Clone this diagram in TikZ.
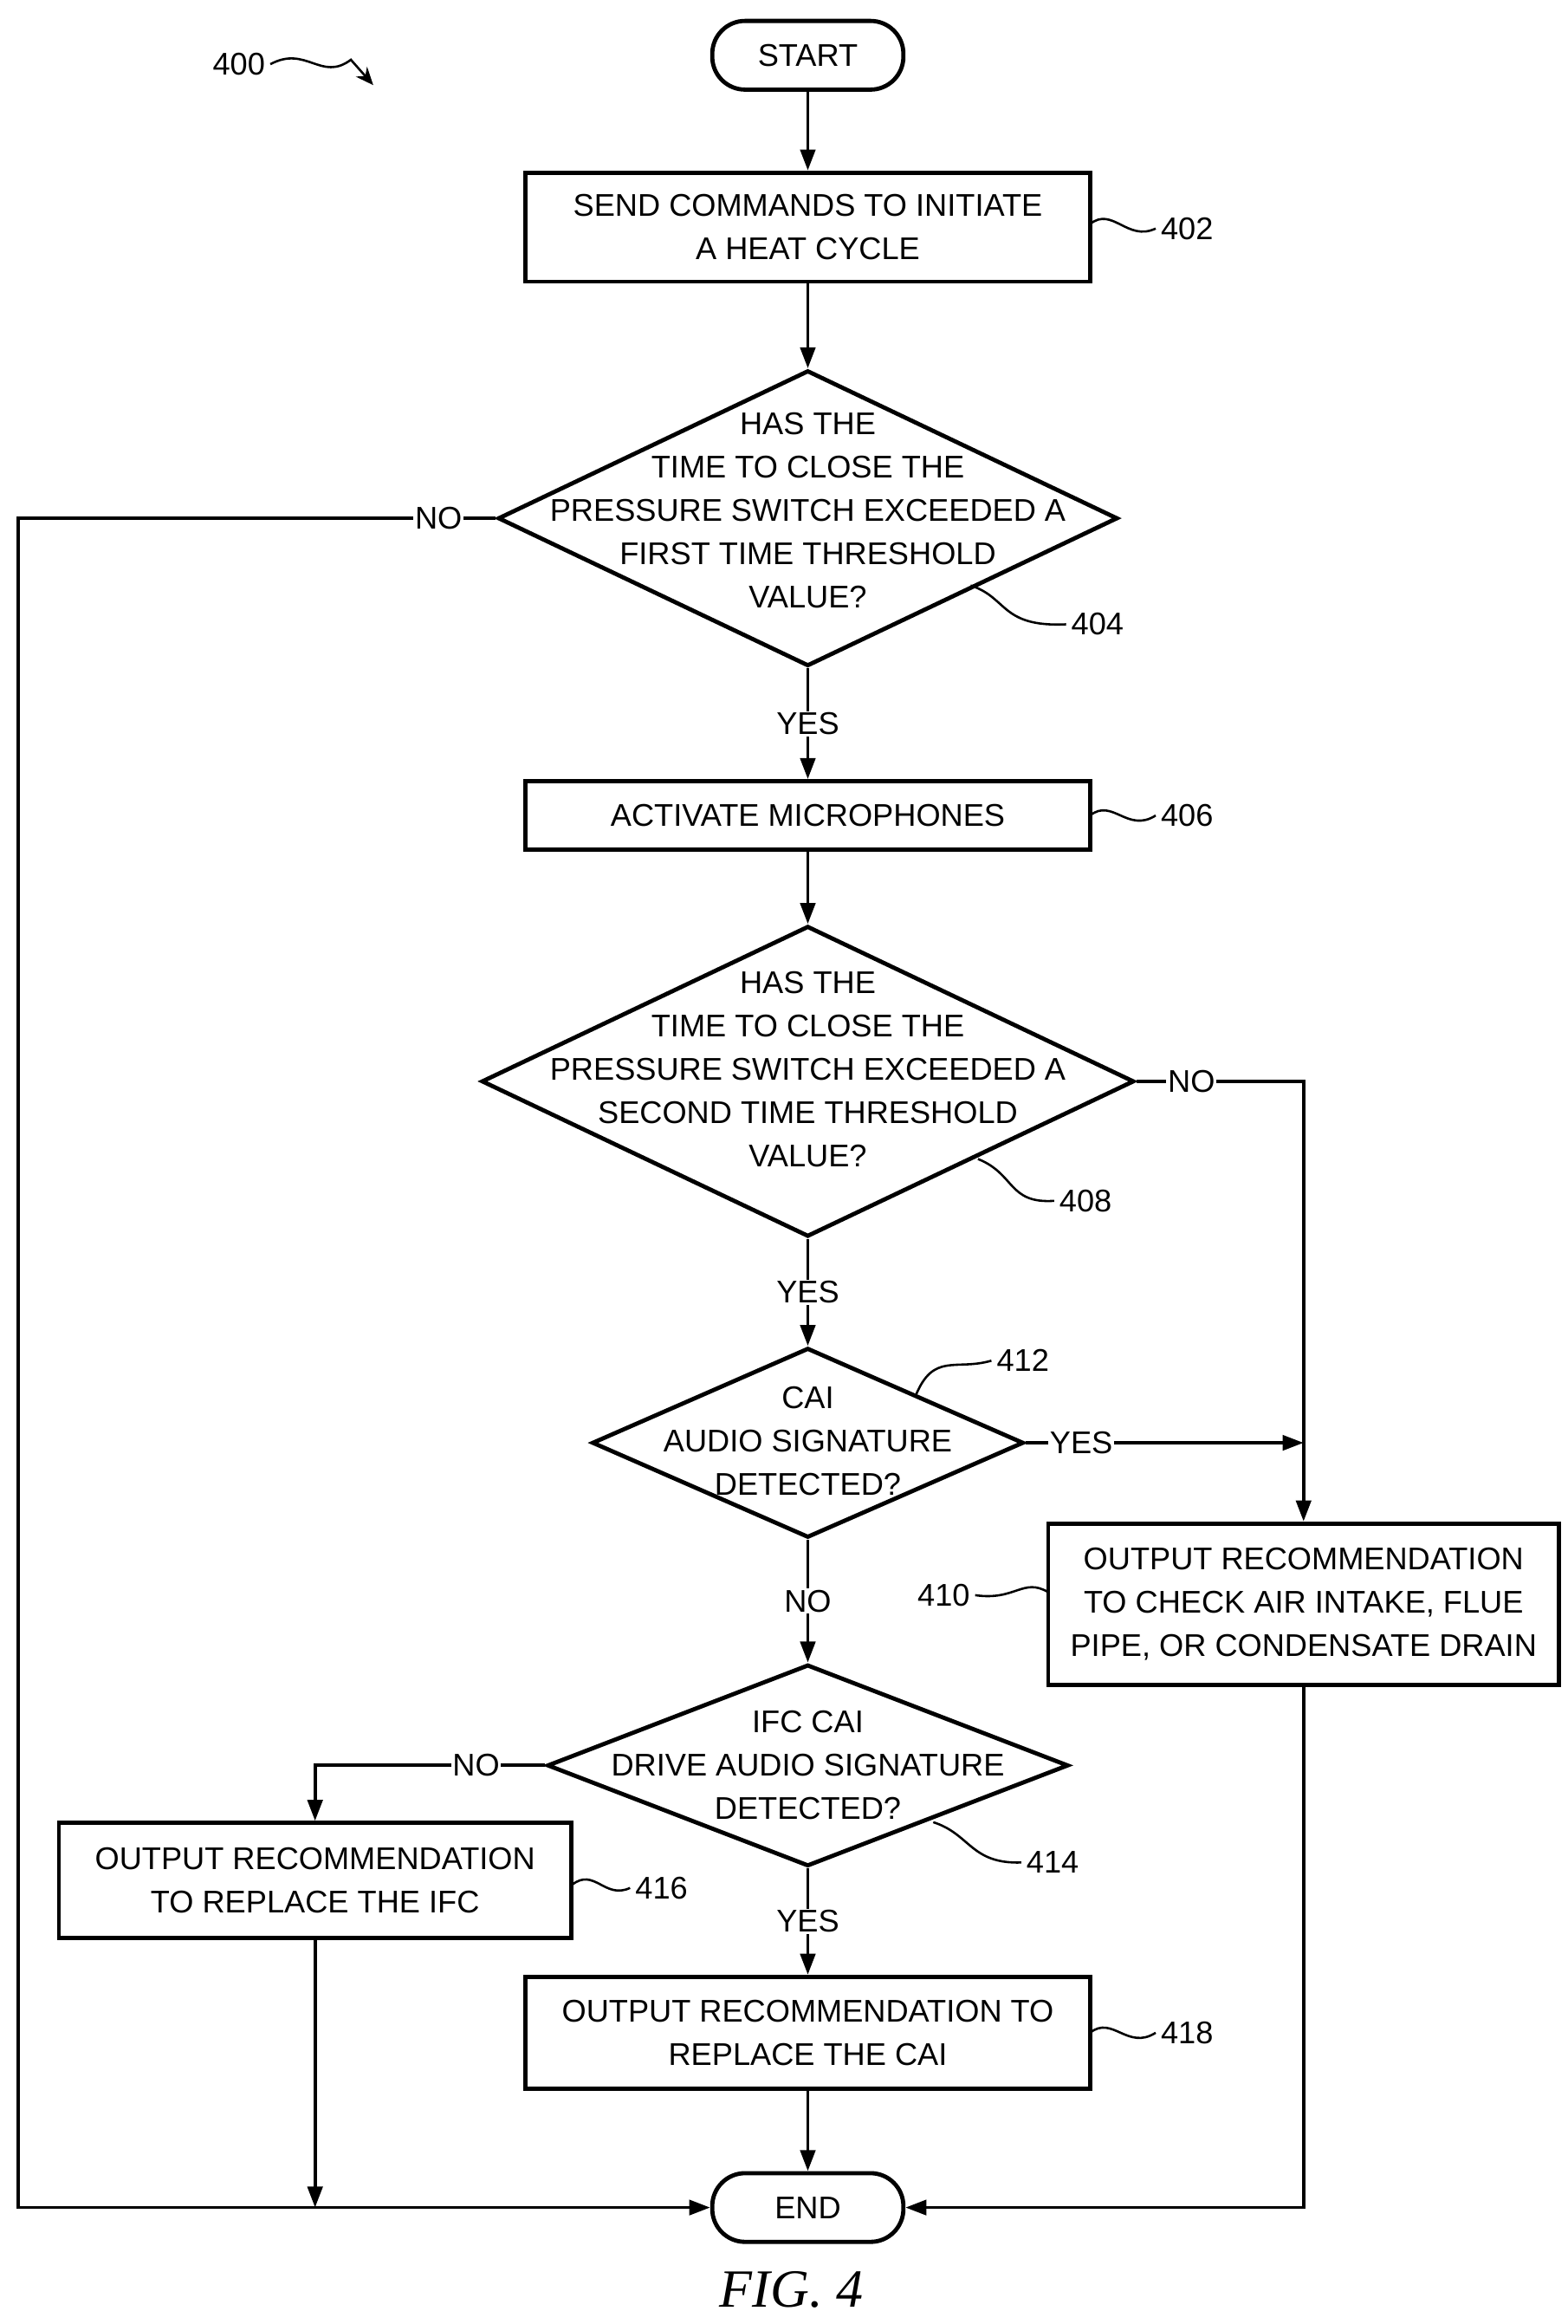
\documentclass[tikz,border=0pt]{standalone}
\usepackage{fontspec}
\setmainfont{Liberation Sans}
\newfontfamily\figfont{Liberation Serif}
\usetikzlibrary{shapes.geometric,arrows.meta}
\begin{document}
\begin{tikzpicture}[x=1pt,y=-1pt,
  every node/.style={font=\fontsize{21}{29}\selectfont},
  box/.style={draw,line width=2.8pt,inner sep=0pt,align=center},
  dia/.style={draw,diamond,line width=2.8pt,inner sep=0pt},
  term/.style={draw,rounded corners=22pt,line width=2.8pt,minimum width=128pt,minimum height=46pt},
  txt/.style={align=center,inner sep=0pt},
  lbl/.style={inner sep=1pt,fill=white},
  ln/.style={line width=2.2pt},
  arr/.style={ln,-{Triangle[length=14pt,width=10pt]}},
  sq/.style={line width=1.5pt}]
\useasboundingbox (0,0) rectangle (1050,1556);
\node[term] (start) at (541,37) {START};
\node[box,minimum width=378pt,minimum height=73pt] (b402) at (541,152) {SEND COMMANDS TO INITIATE\\A HEAT CYCLE};
\node[dia,minimum width=415pt,minimum height=198pt] (d404) at (541,347) {};
\node[txt] at (541,342) {HAS THE\\TIME TO CLOSE THE\\PRESSURE SWITCH EXCEEDED A\\FIRST TIME THRESHOLD\\VALUE?};
\node[box,minimum width=378pt,minimum height=46pt] (b406) at (541,546) {ACTIVATE MICROPHONES};
\node[dia,minimum width=437pt,minimum height=208pt] (d408) at (541,724) {};
\node[txt] at (541,716) {HAS THE\\TIME TO CLOSE THE\\PRESSURE SWITCH EXCEEDED A\\SECOND TIME THRESHOLD\\VALUE?};
\node[dia,minimum width=289pt,minimum height=127pt] (d412) at (541,966) {};
\node[txt] at (541,965) {CAI\\AUDIO SIGNATURE\\DETECTED?};
\node[box,minimum width=342pt,minimum height=108pt] (b410) at (873,1074) {OUTPUT RECOMMENDATION\\TO CHECK AIR INTAKE, FLUE\\PIPE, OR CONDENSATE DRAIN};
\node[dia,minimum width=349pt,minimum height=135pt] (d414) at (541,1182) {};
\node[txt] at (541,1182) {IFC CAI\\DRIVE AUDIO SIGNATURE\\DETECTED?};
\node[box,minimum width=343pt,minimum height=77pt] (b416) at (211,1259) {OUTPUT RECOMMENDATION\\TO REPLACE THE IFC};
\node[box,minimum width=378pt,minimum height=75pt] (b418) at (541,1361) {OUTPUT RECOMMENDATION TO\\REPLACE THE CAI};
\node[term] (end) at (541,1478) {END};
\node[font=\fontsize{36}{38}\selectfont\figfont\itshape] (fig) at (530,1533) {FIG. 4};
% connectors
\draw[arr] (start) -- (b402);
\draw[arr] (b402) -- (d404.north);
\draw[arr] (d404.south) -- node[lbl]{YES} (b406);
\draw[arr] (b406) -- (d408.north);
\draw[arr] (d408.south) -- node[lbl]{YES} (d412.north);
\draw[arr] (d412.south) -- node[lbl]{NO} (d414.north);
\draw[arr] (d414.south) -- node[lbl]{YES} (b418);
\draw[arr] (b418) -- (end);
\coordinate (c1) at (12,347);
\coordinate (c2) at (12,1478);
\draw[arr] (d404.west) -- node[lbl,pos=0.12]{NO} (c1) -- (c2) -- (end.west);
\coordinate (c3) at (873,724);
\draw[arr] (d408.east) -- node[lbl,pos=0.33]{NO} (c3) -- (b410.north);
\coordinate (c4) at (873,966);
\draw[arr] (d412.east) -- node[lbl,pos=0.2]{YES} (c4);
\coordinate (c5) at (873,1478);
\draw[arr] (b410.south) -- (c5) -- (end.east);
\coordinate (c6) at (211,1182);
\draw[arr] (d414.west) -- node[lbl,pos=0.3]{NO} (c6) -- (b416.north);
\coordinate (c7) at (211,1478);
\draw[arr] (b416.south) -- (c7);
% reference labels
\node (l402) at (795,153) {402};
\draw[sq] (730,150) .. controls (745,138) and (755,162) .. (l402.west);
\node (l404) at (735,418) {404};
\draw[sq] (650,392) .. controls (675,400) and (670,420) .. (l404.west);
\node (l406) at (795,546) {406};
\draw[sq] (730,546) .. controls (745,534) and (755,558) .. (l406.west);
\node (l408) at (727,804) {408};
\draw[sq] (655,776) .. controls (680,786) and (675,806) .. (l408.west);
\node (l412) at (685,911) {412};
\draw[sq] (613,935) .. controls (625,905) and (640,918) .. (l412.west);
\node (l410) at (632,1068) {410};
\draw[sq] (702,1066) .. controls (685,1056) and (680,1072) .. (l410.east);
\node (l414) at (705,1247) {414};
\draw[sq] (625,1220) .. controls (650,1228) and (650,1248) .. (l414.west);
\node (l416) at (443,1264) {416};
\draw[sq] (383,1262) .. controls (398,1250) and (405,1272) .. (l416.west);
\node (l418) at (795,1361) {418};
\draw[sq] (730,1361) .. controls (745,1349) and (755,1373) .. (l418.west);
\node (l400) at (160,43) {400};
\coordinate (a400) at (250,57);
\draw[sq,-{Stealth[length=12pt,width=10pt]}] (l400.east) .. controls (205,30) and (215,55) .. (235,40) -- (a400);
\end{tikzpicture}
\end{document}
